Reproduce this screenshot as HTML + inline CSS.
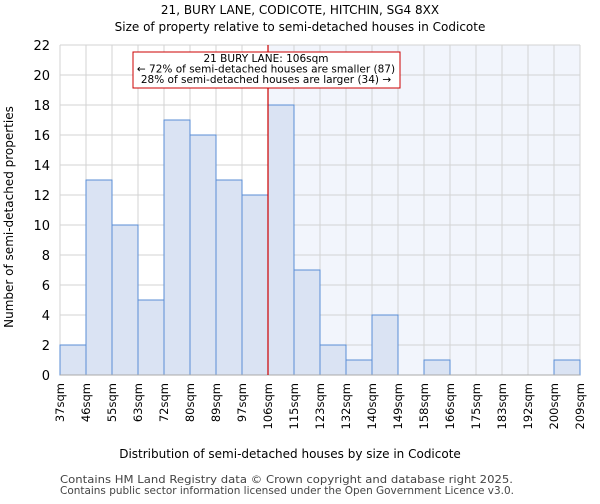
<!DOCTYPE html>
<html><head><meta charset="utf-8"><style>
body{margin:0;background:#fff;font-family:"DejaVu Sans","Liberation Sans",sans-serif}
</style></head><body>
<svg id="chart" width="600" height="500" xmlns="http://www.w3.org/2000/svg" font-family="DejaVu Sans, Liberation Sans, sans-serif">
<text x="300" y="14" text-anchor="middle" font-size="12">21, BURY LANE, CODICOTE, HITCHIN, SG4 8XX</text>
<text x="300" y="31" text-anchor="middle" font-size="12">Size of property relative to semi-detached houses in Codicote</text>
<g id="plot"></g>
<text x="290" y="458" text-anchor="middle" font-size="12">Distribution of semi-detached houses by size in Codicote</text>
<text transform="translate(13,217) rotate(-90)" text-anchor="middle" font-size="12">Number of semi-detached properties</text>
<text x="60" y="483" font-size="11" fill="#444" textLength="453" lengthAdjust="spacingAndGlyphs">Contains HM Land Registry data © Crown copyright and database right 2025.</text>
<text x="60" y="494" font-size="11" fill="#444" textLength="454" lengthAdjust="spacingAndGlyphs">Contains public sector information licensed under the Open Government Licence v3.0.</text>
</svg>
<script>
const categories=["37sqm","46sqm","55sqm","63sqm","72sqm","80sqm","89sqm","97sqm","106sqm","115sqm","123sqm","132sqm","140sqm","149sqm","158sqm","166sqm","175sqm","183sqm","192sqm","200sqm","209sqm"];
const counts=[2,13,10,5,17,16,13,12,18,7,2,1,4,0,1,0,0,0,0,1];
const yTicks=[0,2,4,6,8,10,12,14,16,18,20,22];
const markerIndex=8;
const annotation=["21 BURY LANE: 106sqm","← 72% of semi-detached houses are smaller (87)","28% of semi-detached houses are larger (34) →"];
const NS="http://www.w3.org/2000/svg";
const g=document.getElementById('plot');
const L=60,R=580,T=45,B=375,yMax=22;
const x=i=>L+(R-L)*i/counts.length;
const y=v=>B-(B-T)*v/yMax;
function mk(t,a,p){const e=document.createElementNS(NS,t);for(const k in a)e.setAttribute(k,a[k]);(p||g).appendChild(e);return e;}
let e;
e=mk('rect',{x:x(markerIndex),y:T,width:R-x(markerIndex),height:B-T,fill:'#f2f5fc'});


for(let i=0;i<=counts.length;i++){e=mk('line',{x1:x(i),x2:x(i),y1:T,y2:B,stroke:'#d3d3d3'});

}
yTicks.forEach(v=>{e=mk('line',{x1:L,x2:R,y1:y(v),y2:y(v),stroke:'#d3d3d3'});


e=mk('text',{x:L-10,y:y(v)+5,'text-anchor':'end','font-size':13});e.textContent=v;

});
counts.forEach((c,i)=>{if(!c)return;e=mk('rect',{x:x(i),y:y(c),width:x(i+1)-x(i),height:y(0)-y(c),fill:'#dae3f3',stroke:'#5a8ed6','stroke-width':1});

});
e=mk('line',{x1:L,x2:R,y1:B,y2:B,stroke:'#aaa'});


categories.forEach((c,i)=>{const xx=x(i);e=mk('text',{transform:`translate(${xx+4},383) rotate(-90)`,'text-anchor':'end','font-size':11.5});e.textContent=c;

});
e=mk('line',{x1:x(markerIndex),x2:x(markerIndex),y1:T,y2:B,stroke:'#cc0000','stroke-width':1.2});


e=mk('rect',{x:133,y:52,width:267,height:36,fill:'#fff',stroke:'#cc0000'});


annotation.forEach((t,k)=>{e=mk('text',{x:266,y:62+k*10.5,'text-anchor':'middle','font-size':10.5});e.textContent=t;

});
</script>
</body></html>
